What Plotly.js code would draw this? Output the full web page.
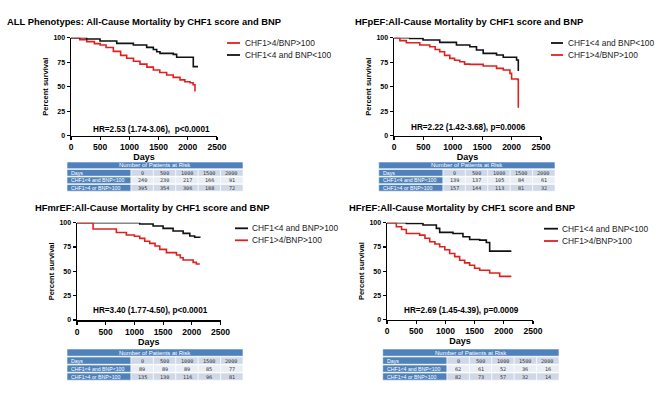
<!DOCTYPE html>
<html><head><meta charset="utf-8">
<script src="https://cdn.plot.ly/plotly-3.0.1.min.js"></script>
<style>html,body{margin:0;padding:0;background:#fff}#chart{width:657px;height:398px}</style>
</head><body><div id="chart"></div>
<script>
// ---------- data ----------
const xTicks = [0, 500, 1000, 1500, 2000, 2500];
const yTicks = [0, 25, 50, 75, 100];
const riskDays = ["Days", "0", "500", "1000", "1500", "2000"];
const riskRowLabels = ["CHF1<4 and BNP<100", "CHF1>4 or BNP>100"];

// Panel 1: ALL phenotypes
const allRedT   = [0,150,270,400,500,600,725,850,954,1070,1182,1300,1410,1520,1638,1750,1866,1950,2038,2090,2123];
const allRedS   = [100,98,96,94,92.5,90,86,82,79,76,73,70,67,64.5,62,59.5,57,55,54,52,45];
const allBlackT = [0,268,497,783,1068,1296,1410,1467,1524,1752,1809,2083,2094,2175];
const allBlackS = [100,98.6,96.6,94.2,92.5,90.1,88,85.7,84,83,80,80,70.5,70.5];
const allRisk1  = [240,230,217,166,91];
const allRisk2  = [395,354,306,188,72];

// Panel 2: HFpEF
const pefBlackT = [0,267,494,778,1062,1290,1403,1517,1744,1858,2057,2085,2114];
const pefBlackS = [100,99.3,97.6,95.2,92.5,90.8,87.4,84,82.3,80,80,77.2,66];
const pefRedT   = [0,100,210,438,608,700,778,860,949,1030,1119,1200,1290,1517,1744,1858,1972,2000,2102,2114];
const pefRedS   = [100,97,94.9,92.5,90.8,88,85.7,82,78.9,77,75.5,73,72.8,71.1,68.7,67,63.6,57.8,57.5,28.6];
const pefRisk1  = [139,137,105,84,61];
const pefRisk2  = [157,144,113,81,32];

// Panel 3: HFmrEF
const mrefBlackT = [0,860,1093,1326,1500,1674,1849,1965,2050,2140];
const mrefBlackS = [100,100,98.6,96.6,94.2,91.4,89,86.3,85,84.5];
const mrefRedT   = [0,250,280,570,686,860,1000,1093,1180,1267,1360,1442,1558,1733,1800,1849,2023,2080,2140];
const mrefRedS   = [100,100,93.5,93.5,90,87.3,86,83.9,81,78.8,76,72.6,69.2,66.8,64,61.6,59.2,57.5,57.5];
const mrefRisk1  = [89,89,89,85,77];
const mrefRisk2  = [135,130,116,96,81];

// Panel 4: HFrEF
const refBlackT = [0,331,616,845,902,1130,1301,1415,1587,1701,1758,2129];
const refBlackS = [100,99.3,97.6,94.1,90,88.9,85.5,82.7,82,79.6,70.6,70.6];
const refRedT   = [0,160,250,331,559,650,731,820,902,990,1073,1160,1244,1330,1415,1500,1587,1758,1929,2129];
const refRedS   = [100,95.8,93,88.9,87.2,84,80.3,78,75.1,72,68.2,65,61.2,58.5,56.1,53,50.9,48.1,44.5,44.5];
const refRisk1  = [62,61,52,36,16];
const refRisk2  = [82,73,57,32,14];

// ---------- layout helpers ----------
const W = 657, H = 398;
const px = x => x / W, py = y => 1 - y / H;
const RED = '#e0201f', BLACK = '#111111';
const FONT = 'Arial, "Liberation Sans", sans-serif';

const panels = [
  { title: 'ALL Phenotypes: All-Cause Mortality by CHF1 score and BNP', titleX: 5, titleY: 21.5,
    box: [71, 217, 37.7, 135.7],
    series: [
      { t: allRedT, s: allRedS, color: RED, name: 'CHF1>4/BNP>100' },
      { t: allBlackT, s: allBlackS, color: BLACK, name: 'CHF1<4 and BNP<100' } ],
    legend: { x0: 227, x1: 240, tx: 243, ys: [43, 55] },
    hr: 'HR=2.53 (1.74-3.06),  p<0.0001', hrX: 151.5, hrY: 129,
    table: { x0: 67, x1: 243, c1: 131, top: 162, rh: 7.5, r1: allRisk1, r2: allRisk2 } },
  { title: 'HFpEF:All-Cause Mortality by CHF1 score and BNP', titleX: 352.7, titleY: 21.5,
    box: [394, 541, 37.7, 135.7],
    series: [
      { t: pefBlackT, s: pefBlackS, color: BLACK, name: 'CHF1<4 and BNP<100' },
      { t: pefRedT, s: pefRedS, color: RED, name: 'CHF1>4/BNP>100' } ],
    legend: { x0: 551, x1: 563, tx: 566, ys: [43, 55] },
    hr: 'HR=2.22 (1.42-3.68), p=0.0006', hrX: 468.5, hrY: 127,
    table: { x0: 378.7, x1: 555, c1: 443, top: 162, rh: 7.5, r1: pefRisk1, r2: pefRisk2 } },
  { title: 'HFmrEF:All-Cause Mortality by CHF1 score and BNP', titleX: 33.3, titleY: 207,
    box: [77, 220.5, 222.7, 320],
    series: [
      { t: mrefBlackT, s: mrefBlackS, color: BLACK, name: 'CHF1<4 and BNP>100' },
      { t: mrefRedT, s: mrefRedS, color: RED, name: 'CHF1>4/BNP>100' } ],
    legend: { x0: 235, x1: 248, tx: 250, ys: [228.3, 240.3] },
    hr: 'HR=3.40 (1.77-4.50), p<0.0001', hrX: 150.5, hrY: 310,
    table: { x0: 67, x1: 243, c1: 131, top: 349, rh: 8, r1: mrefRisk1, r2: mrefRisk2 } },
  { title: 'HFrEF:All-Cause Mortality by CHF1 score and BNP', titleX: 346.7, titleY: 207,
    box: [387, 533, 222.7, 319.5],
    series: [
      { t: refBlackT, s: refBlackS, color: BLACK, name: 'CHF1<4 and BNP<100' },
      { t: refRedT, s: refRedS, color: RED, name: 'CHF1>4/BNP>100' } ],
    legend: { x0: 544, x1: 558, tx: 560, ys: [228.7, 241] },
    hr: 'HR=2.69 (1.45-4.39), p=0.0009', hrX: 461, hrY: 310,
    table: { x0: 382.7, x1: 559, c1: 447, top: 349, rh: 8, r1: refRisk1, r2: refRisk2 } }
];

const traces = [], shapes = [], annotations = [];
const layout = {
  width: W, height: H, margin: { l: 0, r: 0, t: 0, b: 0 },
  paper_bgcolor: '#fff', plot_bgcolor: 'rgba(0,0,0,0)', showlegend: false,
  font: { family: FONT, color: '#000' }
};

function txt(x, y, text, size, opts) {
  annotations.push(Object.assign({ xref: 'paper', yref: 'paper', x: px(x), y: py(y), text: text,
    showarrow: false, xanchor: 'center', yanchor: 'middle',
    font: { family: FONT, size: size, color: '#000' } }, opts || {}));
}
function rect(x0, x1, y0, y1, fill) {
  shapes.push({ type: 'rect', xref: 'paper', yref: 'paper', x0: px(x0), x1: px(x1), y0: py(y1), y1: py(y0),
    fillcolor: fill, line: { width: 0.6, color: '#ffffff' }, layer: 'above' });
}

panels.forEach((p, i) => {
  const n = i + 1, sfx = n === 1 ? '' : String(n);
  const [bx0, bx1, by0, by1] = p.box;
  p.series.forEach(s => {
    traces.push({ type: 'scatter', mode: 'lines', x: s.t, y: s.s, name: s.name,
      xaxis: 'x' + sfx, yaxis: 'y' + sfx, line: { color: s.color, width: 1.6, shape: 'hv' },
      cliponaxis: false, hoverinfo: 'skip' });
  });
  layout['xaxis' + sfx] = {
    domain: [px(bx0), px(bx1)], range: [0, 2500], anchor: 'y' + sfx,
    tickmode: 'array', tickvals: xTicks, ticktext: xTicks.map(String),
    ticks: 'outside', ticklen: 3, tickwidth: 1.2, tickcolor: '#000',
    showline: true, linecolor: '#000', linewidth: 1.5, showgrid: false, zeroline: false,
    tickfont: { family: FONT, size: 8.5, weight: 'bold', color: '#000' },
    title: { text: 'Days', font: { family: FONT, size: 9, weight: 'bold', color: '#000' }, standoff: 0 },
    fixedrange: true
  };
  layout['yaxis' + sfx] = {
    domain: [py(by1), py(by0)], range: [0, 100], anchor: 'x' + sfx,
    tickmode: 'array', tickvals: yTicks, ticktext: yTicks.map(String),
    ticks: 'outside', ticklen: 3, tickwidth: 1.2, tickcolor: '#000',
    showline: true, linecolor: '#000', linewidth: 1.5, showgrid: false, zeroline: false,
    tickfont: { family: FONT, size: 7, weight: 'bold', color: '#000' },
    title: { text: 'Percent survival', font: { family: FONT, size: 7.5, weight: 'bold', color: '#000' }, standoff: 4 },
    fixedrange: true
  };
  // title
  txt(p.titleX, p.titleY, '<b>' + p.title + '</b>', 9.4, { xanchor: 'left' });
  // legend
  p.series.forEach((s, k) => {
    const y = p.legend.ys[k];
    shapes.push({ type: 'line', xref: 'paper', yref: 'paper', x0: px(p.legend.x0), x1: px(p.legend.x1),
      y0: py(y), y1: py(y), line: { color: s.color, width: 1.8 } });
    txt(p.legend.tx, y, s.name, 8.4, { xanchor: 'left', font: { family: FONT, size: 8.4, color: '#222' } });
  });
  // HR text
  txt(p.hrX, p.hrY, '<b>' + p.hr + '</b>', 8.2);
  // risk table
  const t = p.table;
  const cw = (t.x1 - t.c1) / 5;
  const gap = 0.8;
  let y = t.top;
  rect(t.x0, t.x1, y, y + t.rh - gap, '#4f81bd');
  txt((t.x0 + t.x1) / 2, y + (t.rh - gap) / 2, 'Number of Patients at Risk', 6,
    { font: { family: FONT, size: 6, color: '#ffffff' } });
  const rows = [[riskDays[0]].concat(riskDays.slice(1)),
                [riskRowLabels[0]].concat(t.r1.map(String)),
                [riskRowLabels[1]].concat(t.r2.map(String))];
  const fills = ['#d0d8e8', '#e9edf4', '#d0d8e8'];
  rows.forEach((r, ri) => {
    y += t.rh;
    const y0 = y, y1 = y + t.rh - gap;
    rect(t.x0, t.c1, y0, y1, '#4f81bd');
    txt(t.x0 + 2, (y0 + y1) / 2, r[0], 5.2, { xanchor: 'left', font: { family: FONT, size: 5.2, color: '#ffffff' } });
    for (let c = 0; c < 5; c++) {
      rect(t.c1 + c * cw, t.c1 + (c + 1) * cw, y0, y1, fills[ri]);
      txt(t.c1 + (c + 0.5) * cw, (y0 + y1) / 2, r[c + 1], 5.2,
        { font: { family: 'DejaVu Sans Mono, monospace', size: 5.2, color: '#333' } });
    }
  });
});

layout.shapes = shapes;
layout.annotations = annotations;
Plotly.newPlot('chart', traces, layout, { displayModeBar: false, staticPlot: true });
</script></body></html>
